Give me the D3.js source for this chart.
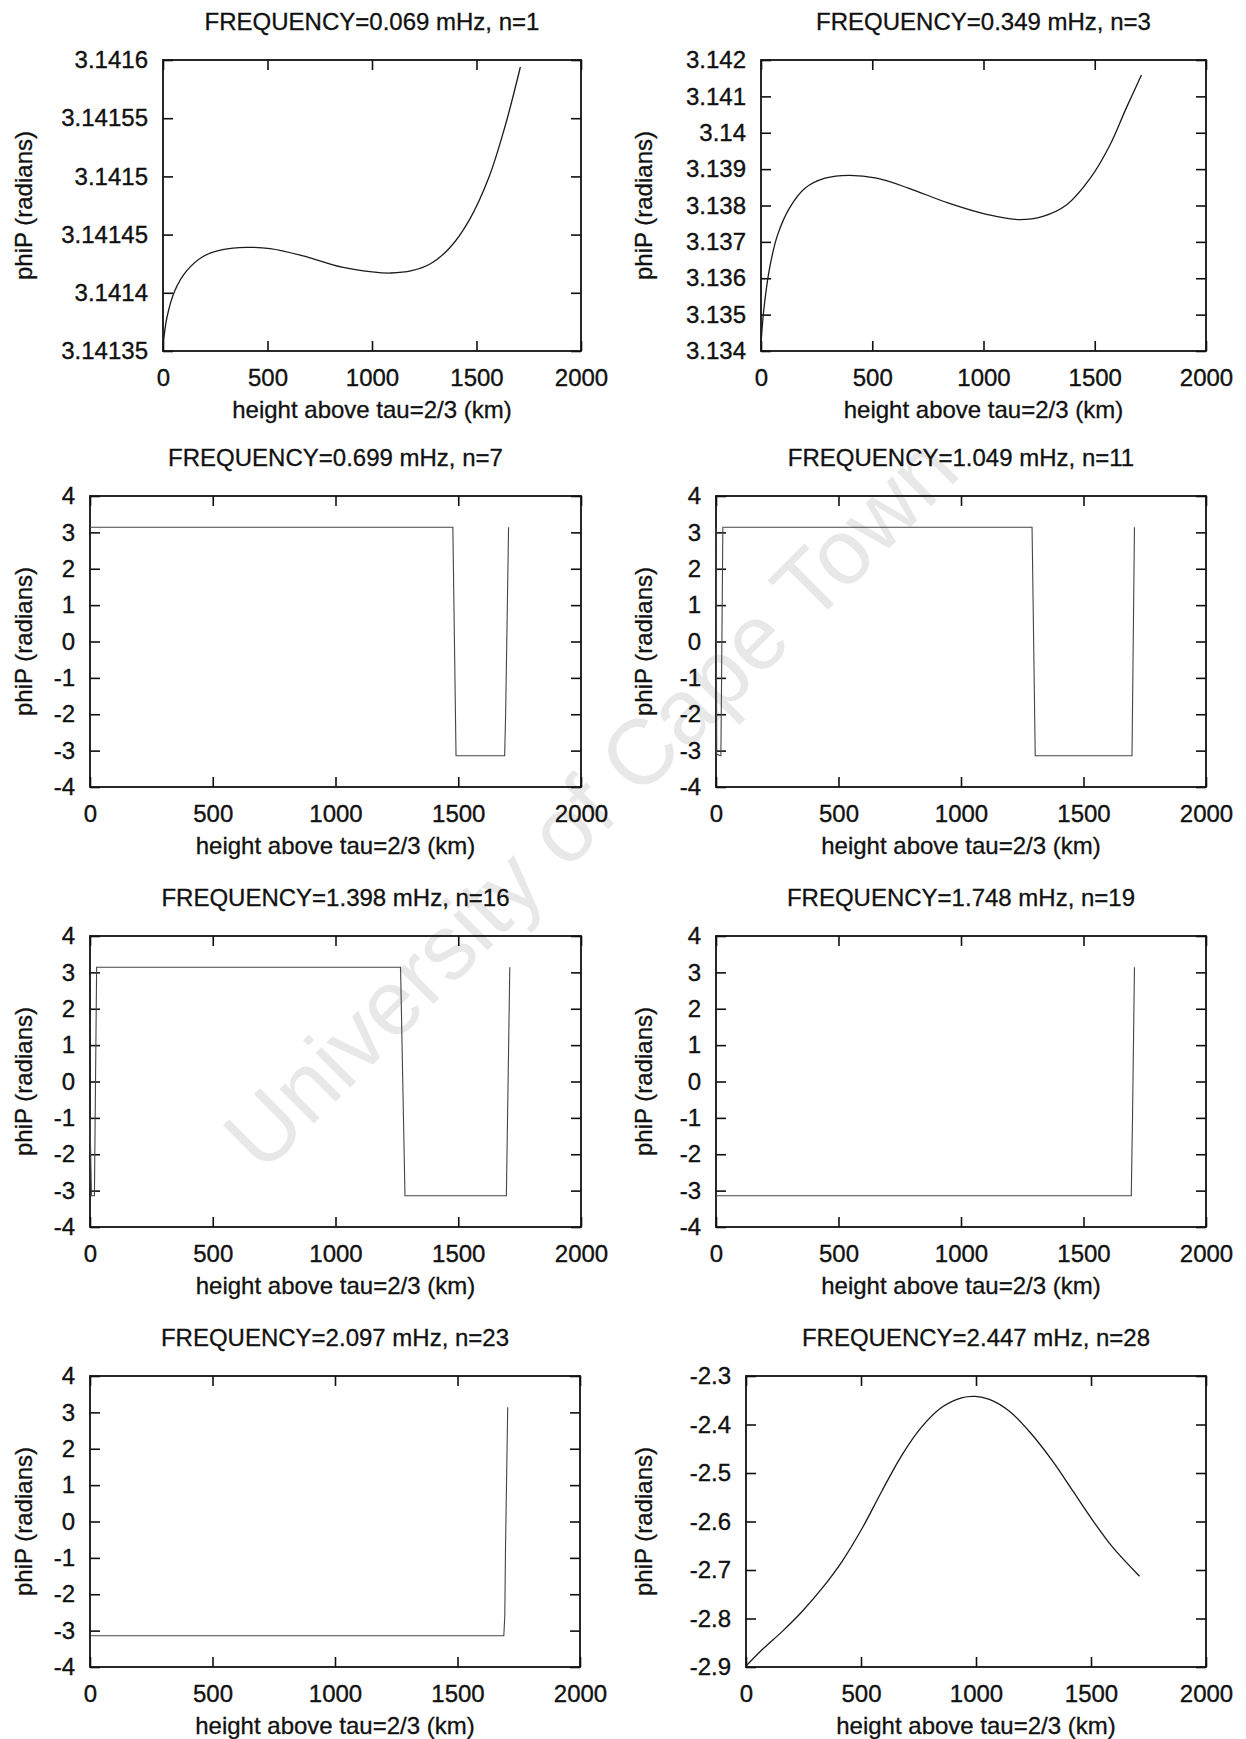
<!DOCTYPE html>
<html>
<head>
<meta charset="utf-8">
<script src="https://cdn.jsdelivr.net/npm/d3@7"></script>
<style>
  html, body { margin: 0; padding: 0; background: #fff; }
  svg { display: block; font-family: "Liberation Sans", Arial, Helvetica, sans-serif; }
  .tick text { font-size: 24px; fill: #111; stroke: #111; stroke-width: 0.35px; }
  .tick line { stroke: #111; stroke-width: 1.6; }
  .lbl { font-size: 24px; fill: #111; stroke: #111; stroke-width: 0.3px; }
</style>
</head>
<body>
<svg id="chart" width="1246" height="1739"></svg>
<script>
// Panel titles (mode frequency and radial order)
const titles = [
  "FREQUENCY=0.069 mHz, n=1",
  "FREQUENCY=0.349 mHz, n=3",
  "FREQUENCY=0.699 mHz, n=7",
  "FREQUENCY=1.049 mHz, n=11",
  "FREQUENCY=1.398 mHz, n=16",
  "FREQUENCY=1.748 mHz, n=19",
  "FREQUENCY=2.097 mHz, n=23",
  "FREQUENCY=2.447 mHz, n=28"
];

const xLabel = "height above tau=2/3 (km)";
const yLabel = "phiP (radians)";

// Axis ticks
const xTicks = [0, 500, 1000, 1500, 2000];
const yTicksN1 = [3.14135, 3.1414, 3.14145, 3.1415, 3.14155, 3.1416];
const yTicksN3 = [3.134, 3.135, 3.136, 3.137, 3.138, 3.139, 3.14, 3.141, 3.142];
const yTicksWrap = [-4, -3, -2, -1, 0, 1, 2, 3, 4];
const yTicksN28 = [-2.9, -2.8, -2.7, -2.6, -2.5, -2.4, -2.3];

// Phase phiP [radians] against height above tau=2/3 [km]
const phiN1 = [[0,3.141354],[19,3.141379],[57,3.141402],[114,3.141419],[190,3.141431],[285,3.141437],
  [399,3.141439],[513,3.141438],[665,3.141432],[856,3.141422],[1000,3.141418],[1090,3.141417],
  [1190,3.141419],[1280,3.141425],[1369,3.141438],[1464,3.141462],[1559,3.141499],[1635,3.141542],[1710,3.141594]];
const phiN3 = [[0,3.13418],[12,3.1351],[39,3.13629],[75,3.1372],[128,3.13793],[199,3.13848],
  [288,3.13875],[395,3.13883],[520,3.13875],[662,3.13848],[840,3.13807],[1018,3.13775],
  [1160,3.13761],[1267,3.1377],[1374,3.13802],[1480,3.13875],[1569,3.13967],[1641,3.14067],[1710,3.14159]];
const phiN7 = [[0,3.1416],[1478,3.1416],[1491,-3.1416],[1689,-3.1416],[1693,-2.0],[1705,3.1416]];
const phiN11 = [[0,3.1416],[3,-3.1],[20,-3.1416],[28,3.1416],[1290,3.1416],[1303,-3.1416],[1698,-3.1416],[1708,3.1416]];
const phiN16 = [[0,-1.0],[6,-3.1416],[18,-3.1416],[27,3.1416],[1265,3.1416],[1283,-3.1416],[1696,-3.1416],[1710,3.1416]];
const phiN19 = [[0,-3.1416],[1695,-3.1416],[1700,-1.0],[1708,3.1416]];
const phiN23 = [[0,-3.1416],[1689,-3.1416],[1693,-2.6],[1696,-0.7],[1700,1.0],[1705,3.1416]];
const phiN28 = [[0,-2.898],[73,-2.863],[159,-2.826],[245,-2.785],[332,-2.737],[418,-2.682],[505,-2.614],
  [591,-2.537],[678,-2.463],[764,-2.405],[850,-2.365],[937,-2.345],[997,-2.342],[1058,-2.348],
  [1144,-2.372],[1231,-2.414],[1334,-2.476],[1421,-2.537],[1508,-2.598],[1594,-2.653],[1711,-2.713]];

const series = [phiN1, phiN3, phiN7, phiN11, phiN16, phiN19, phiN23, phiN28];
const yTickSets = [yTicksN1, yTicksN3, yTicksWrap, yTicksWrap, yTicksWrap, yTicksWrap, yTicksWrap, yTicksN28];
const smooth = [true, true, false, false, false, false, false, true];

// Page layout of the eight plot frames
const frames = [
  {left: 163, right: 581, top: 60},  {left: 761, right: 1206, top: 60},
  {left: 90,  right: 581, top: 496}, {left: 716, right: 1206, top: 496},
  {left: 90,  right: 581, top: 936}, {left: 716, right: 1206, top: 936},
  {left: 90,  right: 580, top: 1376},{left: 746, right: 1206, top: 1376}
];
const plotH = 291;
const tickLen = 10;

const svg = d3.select("#chart");

// Faint diagonal watermark behind the plots
svg.append("text")
  .attr("transform", "translate(590,802) rotate(-45)")
  .attr("text-anchor", "middle")
  .attr("dy", "0.35em")
  .style("font-size", "92px")
  .style("fill", "#e8e8e8")
  .text("University of Cape Town");

const fmt = d => String(+d.toFixed(6));

frames.forEach((f, i) => {
  const w = f.right - f.left;
  const g = svg.append("g").attr("transform", `translate(${f.left},${f.top})`);
  const ticks = yTickSets[i];
  const x = d3.scaleLinear().domain([0, 2000]).range([0, w]);
  const y = d3.scaleLinear().domain([ticks[0], ticks[ticks.length - 1]]).range([plotH, 0]);

  // Inward ticks on all four sides; labels on bottom and left only
  const bottom = g.append("g").attr("transform", `translate(0,${plotH})`)
    .call(d3.axisBottom(x).tickValues(xTicks).tickSizeInner(-tickLen).tickSizeOuter(0).tickPadding(18).tickFormat(fmt));
  const top = g.append("g")
    .call(d3.axisTop(x).tickValues(xTicks).tickSizeInner(-tickLen).tickSizeOuter(0).tickFormat(""));
  const left = g.append("g")
    .call(d3.axisLeft(y).tickValues(ticks).tickSizeInner(-tickLen).tickSizeOuter(0).tickPadding(15).tickFormat(fmt));
  const right = g.append("g").attr("transform", `translate(${w},0)`)
    .call(d3.axisRight(y).tickValues(ticks).tickSizeInner(-tickLen).tickSizeOuter(0).tickFormat(""));
  [bottom, top, left, right].forEach(a => a.select(".domain").remove());

  // Frame
  g.append("rect").attr("width", w).attr("height", plotH)
    .attr("fill", "none").attr("stroke", "#111").attr("stroke-width", 1.8);

  // Phase curve
  const line = d3.line().x(d => x(d[0])).y(d => y(d[1]))
    .curve(smooth[i] ? d3.curveCatmullRom.alpha(0.5) : d3.curveLinear);
  g.append("path").datum(series[i]).attr("d", line)
    .attr("fill", "none").attr("stroke", smooth[i] ? "#1a1a1a" : "#444")
    .attr("stroke-width", smooth[i] ? 1.3 : 1.1);

  // Title
  g.append("text").attr("class", "lbl").attr("x", w / 2).attr("y", -30)
    .attr("text-anchor", "middle").text(titles[i]);

  // X axis label
  g.append("text").attr("class", "lbl").attr("x", w / 2).attr("y", plotH + 67)
    .attr("text-anchor", "middle").text(xLabel);

  // Y axis label
  const yLabX = (i % 2 === 0 ? 32 : 652) - f.left;
  g.append("text").attr("class", "lbl")
    .attr("transform", `translate(${yLabX},${plotH / 2}) rotate(-90)`)
    .attr("text-anchor", "middle").text(yLabel);
});
</script>
</body>
</html>
